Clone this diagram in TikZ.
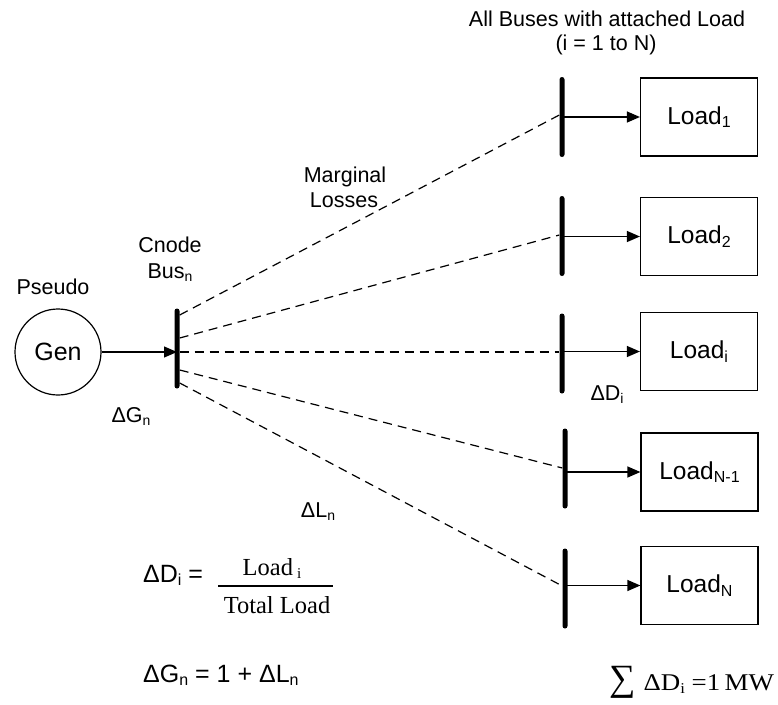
\documentclass[tikz,border=0pt]{standalone}
\usepackage{fontspec}
\setmainfont{Liberation Sans}
\newfontfamily\tnr{Liberation Serif}
\usetikzlibrary{arrows.meta}
\newcommand\sbs[1]{\raisebox{-3pt}{\fontsize{14}{14}\selectfont #1}}
\newcommand\bsbs[1]{\raisebox{-3.5pt}{\fontsize{16}{16}\selectfont #1}}
\newcommand\tsbs[1]{\raisebox{-3.5pt}{\fontsize{15}{15}\selectfont #1}}
\begin{document}
\begin{tikzpicture}[x=1pt,y=-1pt,font=\fontsize{21.5}{24}\selectfont,
  txt/.style={inner sep=0pt,anchor=base},
  big/.style={font=\fontsize{25}{28}\selectfont},
  busbar/.style={draw=none,fill=black,rounded corners=2.5pt,minimum width=5pt,minimum height=80pt,inner sep=0pt},
  loadbox/.style={draw,line width=1.2pt,minimum width=117pt,minimum height=78pt,inner sep=0pt,font=\fontsize{24.5}{27}\selectfont},
  feed/.style={line width=1.2pt,-{Triangle[length=13pt,width=11pt]}},
  loss/.style={line width=1.2pt,dash pattern=on 9pt off 6pt}]
\useasboundingbox (0,0) rectangle (778,704);

% generator and cnode bus
\node[draw,circle,line width=1.2pt,minimum size=86pt,inner sep=0pt,font=\fontsize{25}{28}\selectfont] (gen) at (58,352) {Gen};
\node[busbar] (busn) at (177,348.5) {};

% load buses
\node[busbar] (b1) at (562,117) {};
\node[busbar] (b2) at (562,236) {};
\node[busbar] (bi) at (562,353.5) {};
\node[busbar] (bN1) at (565,468.5) {};
\node[busbar] (bN) at (565,588.5) {};

% load boxes
\node[loadbox] (l1) at (699,117) {Load\bsbs{1}};
\node[loadbox] (l2) at (699,236.5) {Load\bsbs{2}};
\node[loadbox] (li) at (699,351.5) {Load\bsbs{i}};
\node[loadbox] (lN1) at (699.5,472) {Load\bsbs{N-1}};
\node[loadbox] (lN) at (699.5,585.5) {Load\bsbs{N}};

% connectors
\draw[feed] (gen.east) -- (gen.east -| busn.center);
\draw[feed] (l1 -| b1) -- (l1.west);
\draw[feed] (l2 -| b2) -- (l2.west);
\draw[feed] (li -| bi) -- (li.west);
\draw[feed] (lN1 -| bN1) -- (lN1.west);
\draw[feed] (lN -| bN) -- (lN.west);

\draw[loss] ([yshift=33.5pt]busn.east) -- ([yshift=2pt]b1.west);
\draw[loss] ([yshift=10.5pt]busn.east) -- ([yshift=1pt]b2.west);
\draw[loss] ([yshift=-3.5pt]busn.east) -- ([yshift=1.5pt]bi.west);
\draw[loss] ([yshift=-21.5pt]busn.east) -- ([yshift=0.5pt]bN1.west);
\draw[loss] ([yshift=-34.5pt]busn.east) -- ([yshift=2.5pt]bN.west);

% labels
\node[txt] (pseudo) at (53,294) {Pseudo};
\node[txt] (cnode) at (170,252) {Cnode};
\node[txt] (busl) at (170,278) {Bus\sbs{n}};
\node[txt] (dg) at (131,422) {ΔG\sbs{n}};
\node[txt] (marg) at (345,182) {Marginal};
\node[txt] (loss) at (344,207) {Losses};
\node[txt] (allb) at (607,27) {All Buses with attached Load};
\node[txt] (range) at (606,50) {(i = 1 to N)};
\node[txt] (ddi) at (607,400) {ΔD\sbs{i}};
\node[txt] (dln) at (318,517) {ΔL\sbs{n}};

% formulas
\node[txt,big,anchor=base west] (f1) at (143,582) {ΔD\bsbs{i} =};
\node[txt] (num) at (272,575) {\tnr\fontsize{24.5}{26}\selectfont Load\,\tsbs{i}};
\node[txt] (den) at (277,613) {\tnr\fontsize{24.5}{26}\selectfont Total Load};
\coordinate (barL) at (218,586);
\coordinate (barR) at (333,586);
\draw[line width=1.2pt] (barL) -- (barR);
\node[txt,big,anchor=base west] (f2) at (143,682) {ΔG\bsbs{n} = 1 + ΔL\bsbs{n}};
\node[txt,anchor=base west] (sum) at (609,690) {\tnr\fontsize{24}{26}\selectfont{\fontsize{37}{37}\selectfont ∑}\hspace{8pt}\scalebox{1.12}[1]{ΔD\tsbs{i} =1\,MW}};
\end{tikzpicture}
\end{document}
